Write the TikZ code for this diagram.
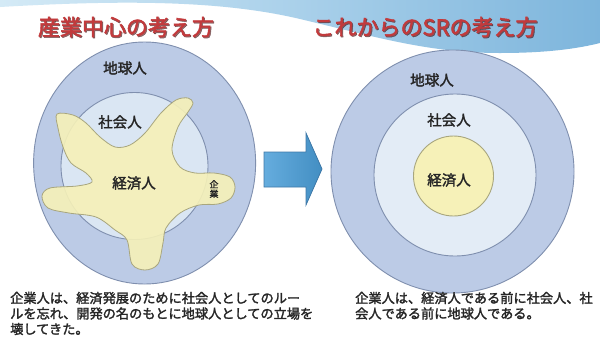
\documentclass[tikz,border=0pt]{standalone}
\usepackage{fontspec}
\newfontfamily\jp{Noto Sans CJK JP}[AutoFakeBold=2]
\usetikzlibrary{shadings}
\definecolor{earth}{HTML}{BCCBE6}
\definecolor{earthline}{HTML}{7F8FAE}
\definecolor{soc}{HTML}{DAE6F3}
\definecolor{socR}{HTML}{E3ECF6}
\definecolor{eco}{HTML}{F6F1B8}
\definecolor{ecoline}{HTML}{A8A67E}
\definecolor{ttl}{HTML}{C23A3C}
\definecolor{arrowfill}{HTML}{4A9ED8}
\definecolor{arrowline}{HTML}{3F79A8}
\definecolor{waveL}{HTML}{D4EAF6}
\definecolor{waveM}{HTML}{A9D0EA}
\definecolor{waveR}{HTML}{7DB5DC}
\tikzset{
  lbl/.style={font=\jp\bfseries\fontsize{14.5}{15}\selectfont, text=black!85, inner sep=0},
  ttlstyle/.style={font=\jp\bfseries\fontsize{22}{22}\selectfont, text=ttl, inner sep=0},
  ttlshadow/.style={font=\jp\bfseries\fontsize{22}{22}\selectfont, text=black!60!ttl, inner sep=0, opacity=0.6},
  captext/.style={font=\jp\bfseries\fontsize{13.2}{15}\selectfont, text=black!85, inner sep=0, anchor=west},
  ring/.style={draw=earthline, line width=0.9pt},
}
\begin{document}
\begin{tikzpicture}[x=1pt,y=-1pt]
\useasboundingbox (0,0) rectangle (600,349);
\fill[white] (0,0) rectangle (600,349);
% top wave band
\shade[left color=waveL, right color=waveR, middle color=waveM]
  (0,0) -- (0,7) .. controls (120,0) and (220,0) .. (300,19)
  .. controls (380,38) and (430,53) .. (500,53)
  .. controls (550,53) and (580,48) .. (600,43) -- (600,0) -- cycle;
% titles
\node[ttlshadow] at (127,28) {産業中心の考え方};
\node[ttlstyle] (t1) at (126,27) {産業中心の考え方};
\node[ttlshadow] at (426,28) {これからのSRの考え方};
\node[ttlstyle] (t2) at (425,27) {これからのSRの考え方};
% left diagram
\filldraw[ring, fill=earth] (144.6,163) ellipse [x radius=111, y radius=121];
\filldraw[ring, fill=soc] (134.5,166) circle [radius=73.5];
\filldraw[draw=ecoline, line width=0.8pt, fill=eco, fill opacity=0.9]
  plot[smooth cycle, tension=0.55] coordinates {
   (57,114) (73,115) (86,123) (100,137) (115,147) (130,145) (145,133)
   (161,113) (176,100) (188,98) (193,103) (188,112) (178,127) (172,150)
   (180,167) (195,173) (214,173) (230,177) (235,187) (231,198) (218,204)
   (199,205) (180,213) (166,228) (163,243) (158,264) (145,270) (132,264)
   (127,240) (115,230) (96,217) (69,213) (48,208) (42,196) (50,188)
   (77,186) (92,182) (86,173) (71,163) (63,147) (58,128)};
\node[lbl] (e1) at (125,68) {地球人};
\node[lbl] (s1) at (120,122) {社会人};
\node[lbl] (k1) at (134,183) {経済人};
\node[font=\jp\bfseries\fontsize{9}{9.5}\selectfont, text=black!85, inner sep=0, align=center] (v1) at (214,189) {企\\業};
% arrow
\shade[left color=arrowfill!85!white, right color=arrowfill!90!black, draw=arrowline, line width=0.8pt]
  (264,152) -- (306,152) -- (306,133) -- (322,169) -- (306,205) -- (306,187) -- (264,187) -- cycle;
% right diagram
\filldraw[ring, fill=earth] (452.5,171.5) circle [radius=121.5];
\filldraw[ring, fill=socR] (455,175) circle [radius=81];
\filldraw[draw=ecoline, line width=0.9pt, fill=eco] (453.5,176) circle [radius=40];
\node[lbl] (e2) at (432,80) {地球人};
\node[lbl] (s2) at (449,120) {社会人};
\node[lbl] (k2) at (449,180) {経済人};
% captions
\node[captext] (c1) at (10,298) {企業人は、経済発展のために社会人としてのルー};
\node[captext] (c2) at (10,313.5) {ルを忘れ、開発の名のもとに地球人としての立場を};
\node[captext] (c3) at (10,329) {壊してきた。};
\node[captext] (c4) at (355,298) {企業人は、経済人である前に社会人、社};
\node[captext] (c5) at (355,313.5) {会人である前に地球人である。};
\end{tikzpicture}
\end{document}
